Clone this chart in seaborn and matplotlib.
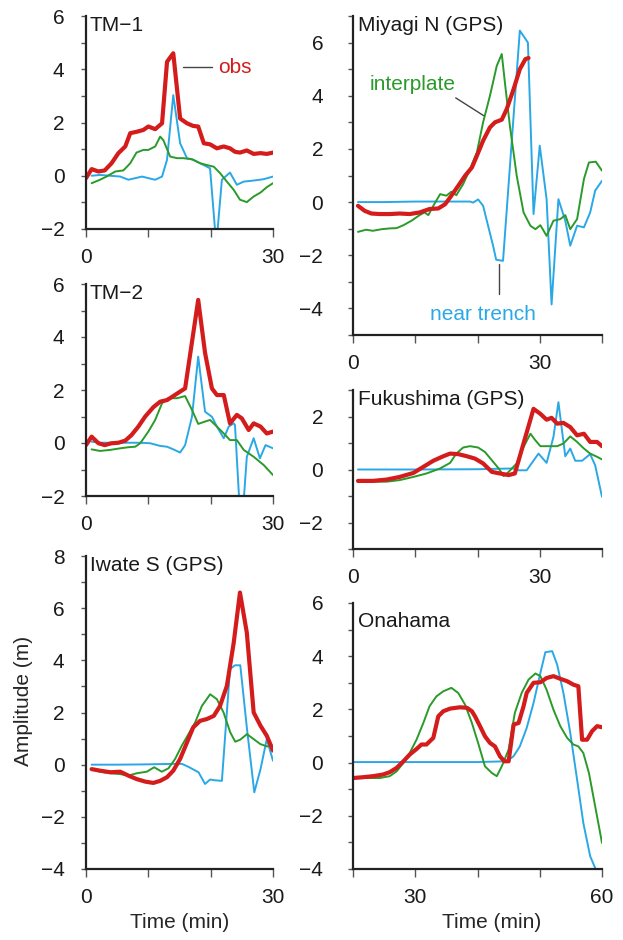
import matplotlib
matplotlib.use('Agg')
import matplotlib.pyplot as plt
import pandas as pd
import seaborn as sns

RED = '#d41c1c'
GREEN = '#2a9a2a'
BLUE = '#2aa8e6'

# ---- TM-1 ----
tm1_obs_t = [0, 0.9, 2.0, 3.0, 4.1, 5.2, 6.3, 7.1, 8.1, 9.2, 10.0, 11.1, 12.2, 13.0, 14.0, 15.1,
             16.2, 17.2, 18.0, 18.9, 19.9, 21.0, 22.1, 23.1, 23.9, 24.7, 25.8, 26.9, 28.0, 29.0, 30.0]
tm1_obs = [-0.09, 0.25, 0.16, 0.2, 0.47, 0.85, 1.1, 1.6, 1.65, 1.72, 1.85, 1.75, 1.97, 4.28, 4.6, 2.15,
           1.97, 1.87, 1.85, 1.22, 1.18, 1.03, 1.1, 1.03, 0.9, 0.87, 0.95, 0.82, 0.85, 0.82, 0.87]
tm1_int_t = [0.9, 2.25, 3.3, 4.7, 6.0, 7.1, 8.1, 9.2, 10.0, 11.1, 11.9, 12.4, 13.5, 14.6, 15.6, 17.0,
             18.3, 19.4, 20.5, 21.5, 22.6, 23.7, 24.7, 25.8, 26.9, 28.0, 29.0, 30.0]
tm1_int = [-0.28, -0.15, -0.03, 0.16, 0.2, 0.47, 0.87, 0.97, 0.97, 1.1, 1.47, 1.34, 0.72, 0.66, 0.66, 0.62,
           0.47, 0.4, 0.34, 0.1, -0.22, -0.53, -0.9, -0.99, -0.78, -0.63, -0.43, -0.28]
tm1_tr_t = [0.9, 2.25, 3.9, 5.5, 6.8, 7.9, 9.0, 10.0, 11.1, 12.2, 13.0, 14.0, 15.1, 16.2, 17.2, 18.3,
            19.9, 20.9, 21.8, 23.1, 24.2, 25.3, 26.9, 28.5, 30.0]
tm1_tr = [0.0, 0.03, 0.0, -0.03, -0.15, -0.09, -0.03, -0.09, -0.15, -0.03, 0.6, 3.03, 1.22, 0.66, 0.6, 0.47,
          0.28, -2.6, -0.15, 0.12, -0.34, -0.22, -0.18, -0.13, -0.03]

# ---- TM-2 ----
tm2_obs_t = [0, 0.9, 2.0, 3.0, 4.1, 5.2, 6.3, 7.3, 8.4, 9.5, 10.8, 11.9, 13.0, 14.0, 15.1, 15.9,
             18.0, 19.1, 20.2, 21.0, 22.1, 23.1, 24.2, 25.0, 26.1, 26.9, 28.0, 29.0, 30.0]
tm2_obs = [-0.08, 0.24, -0.01, -0.08, -0.01, 0.01, 0.09, 0.3, 0.62, 1.0, 1.35, 1.56, 1.62, 1.77, 1.94, 2.06,
           5.4, 3.4, 2.06, 1.81, 1.81, 0.74, 1.06, 0.93, 0.49, 0.74, 0.62, 0.36, 0.43]
tm2_int_t = [0.9, 2.25, 3.9, 5.5, 6.8, 7.9, 8.7, 10.0, 11.1, 12.2, 13.2, 14.6, 15.9, 17.0, 18.0, 19.1,
             19.9, 21.0, 22.1, 23.1, 24.2, 25.3, 26.9, 28.5, 30.0]
tm2_int = [-0.24, -0.3, -0.26, -0.2, -0.16, -0.14, -0.01, 0.43, 0.87, 1.5, 1.69, 1.69, 1.77, 1.25, 0.72, 0.81,
           0.87, 0.62, 0.36, 0.11, 0.11, -0.26, -0.52, -0.83, -1.21]
tm2_tr_t = [0.9, 2.25, 4.4, 6.5, 8.7, 10.3, 11.9, 13.0, 14.0, 15.1, 15.9, 17.0, 18.0, 19.1, 20.2, 21.0,
            22.1, 22.9, 23.7, 23.9, 24.9, 25.8, 26.9, 27.9, 28.8, 30.0]
tm2_tr = [0.05, 0.01, 0.01, 0.01, 0.01, -0.01, -0.11, -0.14, -0.24, -0.36, -0.08, 0.99, 3.26, 1.18, 0.99, 0.62,
          0.18, 0.62, 0.74, 0.68, -3.5, -0.52, 0.18, -0.58, -0.08, -0.2]

# ---- Iwate S (GPS) ----
iw_obs_t = [0.9, 2.25, 3.9, 5.5, 6.8, 8.1, 9.5, 10.8, 11.9, 13.0, 14.0, 15.1, 16.2, 17.2, 18.3, 19.4,
            20.5, 21.5, 22.6, 23.7, 24.7, 25.8, 26.9, 28.0, 29.0, 30.0]
iw_obs = [-0.17, -0.23, -0.29, -0.27, -0.42, -0.55, -0.65, -0.7, -0.62, -0.48, -0.23, 0.22, 0.85, 1.43, 1.68, 1.75,
          1.87, 2.25, 3.02, 4.68, 6.6, 5.06, 2.0, 1.49, 1.11, 0.54]
iw_int_t = [0.9, 2.25, 3.86, 5.46, 6.8, 8.14, 9.75, 10.93, 12.16, 13.23, 14.3, 15.37, 16.44, 17.51, 18.59,
            19.92, 21.0, 22.07, 23.14, 23.94, 24.75, 25.82, 26.89, 27.96, 29.03, 30.0]
iw_int = [-0.17, -0.27, -0.33, -0.36, -0.42, -0.33, -0.27, -0.1, -0.27, -0.14, 0.22, 0.73, 1.17, 1.62, 2.25,
          2.7, 2.51, 2.0, 1.24, 0.88, 0.96, 1.17, 0.98, 0.79, 0.7, 0.73]
iw_tr_t = [0.9, 4.9, 9.2, 14.0, 15.4, 16.4, 18.05, 19.1, 19.9, 20.7, 21.8, 23.1, 23.9, 24.75, 25.8, 27.0,
           28.0, 29.0, 30.0]
iw_tr = [0.0, 0.0, 0.01, 0.03, 0.03, -0.08, -0.29, -0.74, -0.57, -0.6, -0.62, 3.66, 3.81, 3.81, 1.43, -1.06,
         -0.17, 0.98, 0.15]

# ---- Miyagi N (GPS) ----
mi_obs_t = [0.8, 1.88, 2.95, 4.3, 5.9, 7.5, 9.1, 10.7, 12.3, 13.7, 14.8, 15.8, 16.9, 18.0, 19.1, 19.9,
            20.9, 22.0, 22.8, 23.9, 24.7, 25.8, 26.8, 27.7, 28.2]
mi_obs = [-0.14, -0.33, -0.43, -0.45, -0.45, -0.43, -0.45, -0.39, -0.26, -0.24, -0.08, 0.24, 0.61, 0.99, 1.3, 1.74,
          2.31, 2.81, 3.0, 3.1, 3.5, 4.25, 5.0, 5.38, 5.42]
mi_int_t = [0.8, 2.1, 3.2, 4.6, 5.9, 7.0, 8.1, 9.4, 10.7, 11.5, 12.1, 12.9, 14.0, 15.0, 15.8, 16.6,
            17.7, 18.8, 19.9, 20.9, 22.0, 23.1, 23.9, 24.4, 25.2, 26.3, 27.4, 28.5, 29.3, 30.1,
            31.1, 32.2, 33.3, 34.1, 34.9, 36.0, 37.1, 37.9, 39.0, 40.0]
mi_int = [-1.12, -1.04, -1.08, -1.02, -0.99, -0.98, -0.87, -0.7, -0.49, -0.39, -0.49, -0.14, 0.3, 0.24, 0.39, 0.26,
          0.68, 1.24, 1.87, 3.0, 4.0, 5.13, 5.57, 4.5, 2.87, 0.99, -0.39, -0.89, -1.02, -0.87,
          -1.27, -0.7, -0.64, -0.49, -1.02, -0.64, 0.87, 1.49, 1.52, 1.18]
mi_tr_t = [0.8, 5.0, 10.0, 15.0, 18.8, 19.3, 20.1, 20.9, 21.7, 22.5, 23.0, 24.1, 26.8, 28.1, 29.0, 30.0,
           31.1, 31.9, 33.0, 34.1, 34.9, 36.0, 37.1, 38.1, 38.9, 40.0]
mi_tr = [0.0, 0.0, 0.02, 0.02, 0.02, -0.02, 0.1, -0.14, -0.89, -1.64, -2.17, -2.21, 6.45, 6.0, -0.45, 2.12,
         0.11, -3.85, 0.11, -0.7, -1.64, -0.89, -0.95, -0.39, 0.43, 0.8]

# ---- Fukushima (GPS) ----
fk_obs_t = [0.8, 3.2, 5.4, 7.5, 9.7, 11.3, 12.9, 14.5, 15.6, 16.9, 18.3, 19.6, 20.9, 22.3, 23.6, 25.0,
            26.0, 29.0, 30.1, 31.1, 31.9, 32.8, 33.8, 34.9, 36.0, 37.1, 38.1, 39.2, 40.0]
fk_obs = [-0.43, -0.43, -0.38, -0.28, -0.13, 0.1, 0.33, 0.5, 0.6, 0.58, 0.5, 0.41, 0.23, -0.09, -0.15, -0.21,
          -0.15, 2.29, 2.1, 1.88, 1.95, 1.73, 1.76, 1.6, 1.29, 1.35, 1.04, 1.04, 0.88]
fk_int_t = [0.8, 3.2, 5.4, 7.5, 9.7, 11.8, 14.0, 15.6, 16.6, 17.7, 18.8, 20.1, 21.2, 22.3, 23.4, 24.2,
            25.0, 26.3, 27.4, 28.5, 29.3, 30.1, 31.4, 32.8, 33.8, 34.9, 36.0, 37.1, 38.1, 39.2, 40.0]
fk_int = [-0.46, -0.46, -0.46, -0.4, -0.28, -0.15, 0.04, 0.25, 0.6, 0.83, 0.88, 0.83, 0.66, 0.35, 0.04, -0.25,
          -0.09, 0.23, 0.85, 1.35, 1.1, 0.88, 0.88, 0.88, 0.98, 1.25, 1.04, 0.79, 0.6, 0.48, 0.38]
fk_tr_t = [0.8, 10.0, 20.0, 25.8, 26.6, 27.9, 29.8, 31.1, 32.2, 33.0, 34.1, 34.9, 35.7, 36.8, 38.1, 38.9, 40.0]
fk_tr = [0.0, 0.0, 0.01, 0.04, -0.03, -0.03, 0.6, 0.25, 1.23, 2.54, 0.5, 0.79, 0.33, 0.33, 0.58, 0.16, -1.03]

# ---- Onahama ----
on_obs_t = [20.0, 21.6, 23.2, 24.8, 25.9, 27.0, 28.1, 29.1, 30.2, 31.0, 31.8, 32.9, 33.7, 34.5, 35.6, 37.2,
            38.3, 39.1, 39.6, 40.4, 41.2, 42.0, 42.8, 43.6, 44.3, 45.0, 45.8, 46.6, 47.4, 47.9, 49.0,
            50.1, 51.1, 52.2, 53.3, 54.4, 55.4, 56.2, 56.8, 57.6, 58.4, 59.2, 60.0]
on_obs = [-0.58, -0.55, -0.51, -0.45, -0.36, -0.2, 0.05, 0.3, 0.51, 0.68, 0.68, 0.93, 1.74, 1.93, 2.03, 2.08,
          2.06, 1.93, 1.74, 1.37, 0.99, 0.74, 0.61, 0.24, 0.05, 0.05, 1.43, 1.49, 2.12, 2.62, 3.0,
          3.02, 3.18, 3.25, 3.15, 3.06, 2.93, 2.87, 0.86, 0.86, 1.18, 1.37, 1.33]
on_int_t = [20.0, 22.1, 24.3, 25.9, 27.0, 28.1, 29.1, 30.2, 31.3, 32.3, 33.4, 34.5, 35.8, 36.9, 38.0, 39.1,
            40.1, 41.2, 42.3, 43.1, 43.9, 45.0, 46.0, 47.1, 48.2, 49.3, 50.1, 51.1, 52.2, 53.3, 54.4,
            55.4, 56.2, 57.0, 57.9, 58.7, 59.5, 60.0]
on_int = [-0.58, -0.58, -0.58, -0.51, -0.33, -0.01, 0.36, 0.86, 1.49, 2.12, 2.49, 2.68, 2.81, 2.62, 2.18, 1.49,
          0.74, -0.14, -0.39, -0.51, -0.14, 0.49, 1.87, 2.62, 3.12, 3.35, 3.25, 2.74, 1.99, 1.37, 0.93,
          0.68, 0.61, 0.36, -0.39, -1.39, -2.39, -3.02]
on_tr_t = [20.0, 30.0, 40.0, 44.7, 45.8, 46.8, 47.9, 49.0, 50.1, 50.9, 52.0, 52.8, 53.8, 54.9, 56.0, 57.0,
           58.1, 58.9, 59.3]
on_tr = [0.02, 0.02, 0.02, 0.05, 0.24, 0.61, 1.3, 2.24, 3.37, 4.15, 4.19, 3.68, 2.62, 1.12, -0.64, -2.27,
         -3.52, -3.96, -4.3]

sns.set_style('ticks')
plt.rcParams['font.family'] = ['Liberation Sans', 'DejaVu Sans']
plt.rcParams['font.size'] = 14.5
plt.rcParams['axes.unicode_minus'] = True
plt.rcParams['text.color'] = '#1a1a1a'
plt.rcParams['xtick.labelcolor'] = '#1a1a1a'
plt.rcParams['ytick.labelcolor'] = '#1a1a1a'

W, H = 623, 940
FS = 15
fig = plt.figure(figsize=(W / 100, H / 100), dpi=100)


def make_axes(left, top, right, bottom):
    return fig.add_axes([left / W, 1 - bottom / H, (right - left) / W, (bottom - top) / H])


def draw(ax, series):
    # blue and green first, red on top
    for t, y, color, lw in series:
        df = pd.DataFrame({'t': t, 'y': y})
        sns.lineplot(data=df, x='t', y='y', ax=ax, color=color, lw=lw, estimator=None, sort=False)


def style(ax, xlim, ylim, xticks, xlabels, yticks, title, ypad, title_y=1.0):
    ax.set_xlim(*xlim)
    ax.set_ylim(*ylim)
    ax.set_xticks(xticks)
    ax.set_xticklabels(xlabels)
    ax.set_yticks(yticks)
    ax.set_yticks(range(ylim[0], ylim[1] + 1), minor=True)
    ax.set_xlabel('')
    ax.set_ylabel('')
    sns.despine(ax=ax)
    for s in ['left', 'bottom']:
        ax.spines[s].set_linewidth(1.6)
        ax.spines[s].set_color('#222222')
    ax.tick_params(axis='x', which='major', length=6, width=1.0, color='#555555', pad=8, labelsize=FS)
    ax.tick_params(axis='x', which='minor', length=0)
    ax.tick_params(axis='y', which='major', length=3.5, width=1.0, color='#555555', pad=ypad, labelsize=FS)
    ax.tick_params(axis='y', which='minor', length=3.5, width=1.0, color='#555555')
    ax.text(0.02, title_y, title, transform=ax.transAxes, ha='left', va='top', fontsize=FS)


lw_obs, lw_m = 3.0, 1.4
pad_left, pad_right = 12, 18

ax1 = make_axes(86, 16, 273, 229)
draw(ax1, [(tm1_tr_t, tm1_tr, BLUE, lw_m), (tm1_int_t, tm1_int, GREEN, lw_m), (tm1_obs_t, tm1_obs, RED, lw_obs)])
style(ax1, (0, 30), (-2, 6), [0, 10, 20, 30], ['0', '', '', '30'], [-2, 0, 2, 4, 6], 'TM−1', pad_left)
ax1.plot([15.6, 20.2], [4.09, 4.09], color='#444444', lw=1.0)
ax1.text(21.2, 4.05, 'obs', color=RED, ha='left', va='center', fontsize=FS)

ax2 = make_axes(86, 284, 273, 496)
draw(ax2, [(tm2_tr_t, tm2_tr, BLUE, lw_m), (tm2_int_t, tm2_int, GREEN, lw_m), (tm2_obs_t, tm2_obs, RED, lw_obs)])
style(ax2, (0, 30), (-2, 6), [0, 10, 20, 30], ['0', '', '', '30'], [-2, 0, 2, 4, 6], 'TM−2', pad_left)

ax3 = make_axes(86, 556, 273, 869)
draw(ax3, [(iw_tr_t, iw_tr, BLUE, lw_m), (iw_int_t, iw_int, GREEN, lw_m), (iw_obs_t, iw_obs, RED, lw_obs)])
style(ax3, (0, 30), (-4, 8), [0, 10, 20, 30], ['0', '', '', '30'], [-4, -2, 0, 2, 4, 6, 8], 'Iwate S (GPS)', pad_left)
ax3.set_ylabel('Amplitude (m)', fontsize=FS)
ax3.yaxis.set_label_coords(-0.285, 0.537)
ax3.set_xlabel('Time (min)', fontsize=FS)
ax3.xaxis.set_label_coords(0.5, -0.14)

ax4 = make_axes(353, 16, 602, 335)
draw(ax4, [(mi_tr_t, mi_tr, BLUE, lw_m), (mi_int_t, mi_int, GREEN, lw_m), (mi_obs_t, mi_obs, RED, lw_obs)])
style(ax4, (0, 40), (-5, 7), [0, 10, 20, 30, 40], ['0', '', '', '30', ''], [-4, -2, 0, 2, 4, 6],
      'Miyagi N (GPS)', pad_right)
ax4.text(2.7, 4.42, 'interplate', color=GREEN, ha='left', va='center', fontsize=FS)
ax4.plot([16.5, 21.0], [3.92, 3.25], color='#444444', lw=1.0)
ax4.text(12.4, -4.23, 'near trench', color=BLUE, ha='left', va='center', fontsize=FS)
ax4.plot([23.4, 23.4], [-2.34, -3.47], color='#444444', lw=1.0)

ax5 = make_axes(353, 390, 602, 549)
draw(ax5, [(fk_tr_t, fk_tr, BLUE, lw_m), (fk_int_t, fk_int, GREEN, lw_m), (fk_obs_t, fk_obs, RED, lw_obs)])
style(ax5, (0, 40), (-3, 3), [0, 10, 20, 30, 40], ['0', '', '', '30', ''], [-2, 0, 2],
      'Fukushima (GPS)', pad_right)

ax6 = make_axes(353, 603, 602, 869)
draw(ax6, [(on_tr_t, on_tr, BLUE, lw_m), (on_int_t, on_int, GREEN, lw_m), (on_obs_t, on_obs, RED, lw_obs)])
style(ax6, (20, 60), (-4, 6), [20, 30, 40, 50, 60], ['', '30', '', '', '60'], [-4, -2, 0, 2, 4, 6],
      'Onahama', pad_right, title_y=0.965)
ax6.set_xlabel('Time (min)', fontsize=FS)
ax6.xaxis.set_label_coords(0.558, -0.165)

fig.savefig('out.png', dpi=100)
